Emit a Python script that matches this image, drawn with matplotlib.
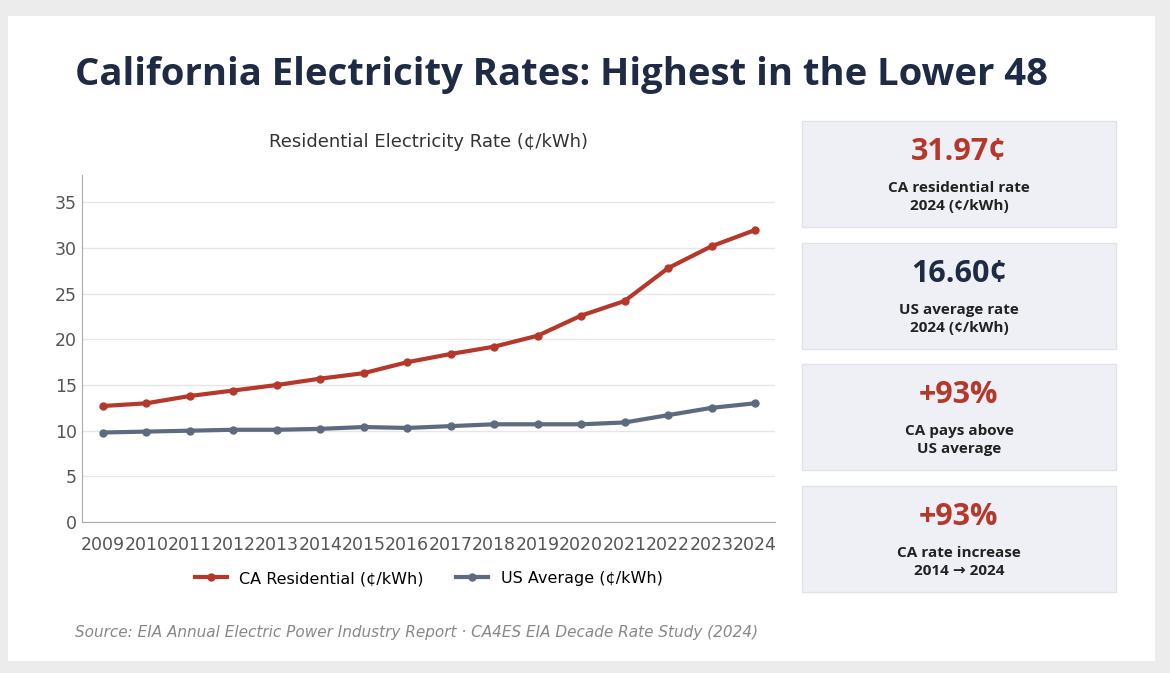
import matplotlib
matplotlib.use("Agg")
import matplotlib.pyplot as plt
from matplotlib.patches import Rectangle

years = list(range(2009, 2025))
ca_rate = [12.7, 13.0, 13.8, 14.4, 15.0, 15.7, 16.3, 17.5, 18.4, 19.2, 20.4, 22.6, 24.2, 27.8, 30.2, 31.97]
us_rate = [9.8, 9.9, 10.0, 10.1, 10.1, 10.2, 10.4, 10.3, 10.5, 10.7, 10.7, 10.7, 10.9, 11.7, 12.5, 13.0]
card_values = ["31.97¢", "16.60¢", "+93%", "+93%"]
card_labels = ["CA residential rate\n2024 (¢/kWh)", "US average rate\n2024 (¢/kWh)",
               "CA pays above\nUS average", "CA rate increase\n2014 → 2024"]
card_colors = ["#b5382b", "#1f2a44", "#b5382b", "#b5382b"]

RED = "#b5382b"
GRAY = "#5d6a80"
W, H = 1170, 673
fig = plt.figure(figsize=(W/100, H/100), dpi=100)
fig.patch.set_facecolor("#ececec")
fig.add_artist(Rectangle((8/W, 12/H), 1147/W, 645/H, transform=fig.transFigure,
                         facecolor="white", edgecolor="none", zorder=0))

fig.text(75/W, 1-75/H, "California Electricity Rates: Highest in the Lower 48",
         fontsize=27.5, fontweight="bold", color="#1f2a44", va="center", family="Open Sans")

ax = fig.add_axes([82/W, 1-522/H, (775-82)/W, (522-175)/H])
ax.plot(years, ca_rate, color=RED, lw=3, marker="o", ms=5, label="CA Residential (¢/kWh)")
ax.plot(years, us_rate, color=GRAY, lw=3, marker="o", ms=5, label="US Average (¢/kWh)")
ax.set_ylim(0, 38)
ax.set_xlim(2008.52, 2024.46)
ax.set_yticks(range(0, 40, 5))
ax.set_xticks(years)
ax.set_xticklabels([str(y) for y in years])
ax.tick_params(axis="both", labelsize=12.5, colors="#555555", length=0)
ax.tick_params(axis="x", pad=10)
ax.grid(axis="y", color="#e6e6e6", lw=1)
ax.set_axisbelow(True)
for s in ["top", "right"]:
    ax.spines[s].set_visible(False)
for s in ["left", "bottom"]:
    ax.spines[s].set_color("#aaaaaa")
ax.set_title("Residential Electricity Rate (¢/kWh)", fontsize=13, color="#333333", pad=20)
ax.legend(loc="upper center", bbox_to_anchor=(0.5, -0.1), ncol=2, frameon=False,
          fontsize=11.5, handlelength=2, columnspacing=2)

fig.text(75/W, 1-632/H, "Source: EIA Annual Electric Power Industry Report · CA4ES EIA Decade Rate Study (2024)",
         fontsize=11, style="italic", color="#888888", va="center")

tops = [121, 243, 364, 486]
for t, v, lab, c in zip(tops, card_values, card_labels, card_colors):
    fig.add_artist(Rectangle((802/W, 1-(t+106)/H), 314/W, 106/H, transform=fig.transFigure,
                             facecolor="#eef0f5", edgecolor="#e0e3ea", lw=1))
    fig.text(959/W, 1-(t+31)/H, v, fontsize=22, fontweight="bold", color=c, ha="center", va="center",
             family="Open Sans")
    fig.text(959/W, 1-(t+76)/H, lab, fontsize=11, fontweight="bold", color="#222222", ha="center",
             va="center", linespacing=1.3, family=["Open Sans", "DejaVu Sans"])

fig.savefig("out.png", dpi=100, facecolor=fig.get_facecolor())
